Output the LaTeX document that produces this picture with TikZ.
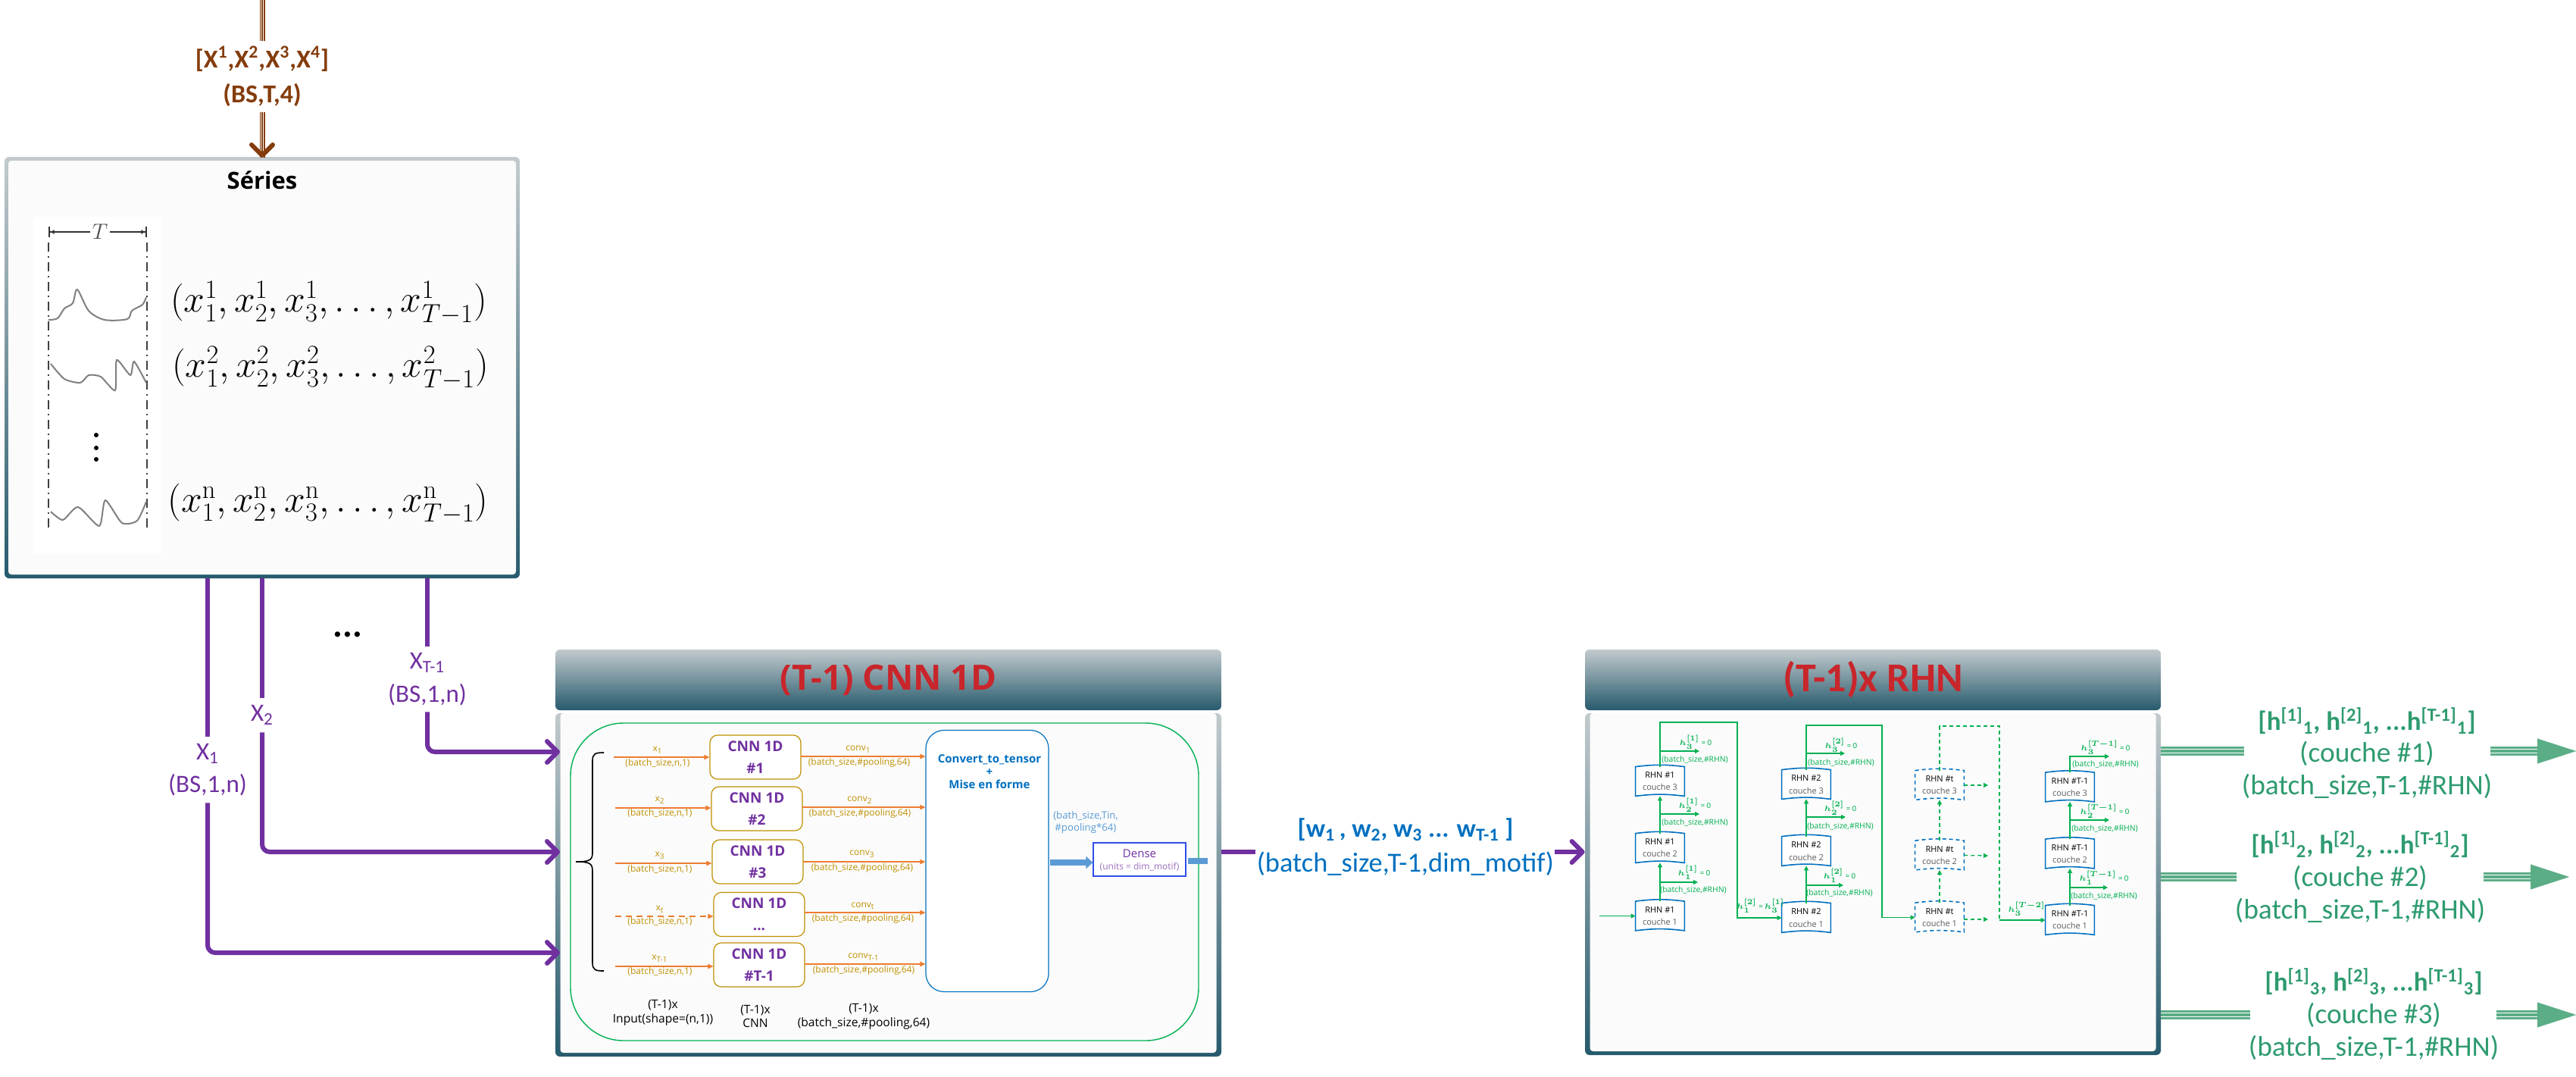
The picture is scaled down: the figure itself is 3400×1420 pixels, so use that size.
\documentclass[tikz,border=0pt]{standalone}
\usepackage{amsmath}
\usepackage[no-math]{fontspec}
\setmainfont{Carlito}
\newfontfamily\osans{Open Sans}
\usepackage{tikz}
\usetikzlibrary{arrows.meta,positioning,calc}
\definecolor{brw}{HTML}{843C0C}
\definecolor{pur}{HTML}{7030A0}
\definecolor{ora}{HTML}{ED7D31}
\definecolor{gld}{HTML}{BF9000}
\definecolor{grn}{HTML}{00B050}
\definecolor{blu}{HTML}{0070C0}
\definecolor{lblu}{HTML}{5B9BD5}
\definecolor{redt}{HTML}{C8262B}
\definecolor{tealt}{HTML}{C2CACD}
\definecolor{tealb}{HTML}{265A6C}
\definecolor{grnt}{HTML}{2E9B6F}
\definecolor{grna}{HTML}{5BAD86}
\definecolor{panin}{HTML}{FBFBFB}
\newcommand{\hb}[2]{{\boldmath$h_{#1}^{[#2]}$}}
\newcommand{\hrow}[1]{[h\textsuperscript{[1]}\textsubscript{#1}, h\textsuperscript{[2]}\textsubscript{#1}, ...h\textsuperscript{[T-1]}\textsubscript{#1}]}
\newcommand{\fs}[1]{\fontsize{#1}{1.2\dimexpr#1pt\relax}\selectfont}
\begin{document}
\begin{tikzpicture}
  [x=0.5pt,y=-0.5pt,
  pout/.style={rectangle,rounded corners=3pt,top color=tealt,bottom color=tealb,inner sep=0},
  pin/.style={rectangle,rounded corners=2pt,fill=panin,inner sep=0},
  hdr/.style={pout,text=redt,font=\fs{23}\osans\bfseries},
  purl/.style={draw=pur,line width=3pt},
  purr/.style={purl,rounded corners=5pt,-{Straight Barb[length=7pt,width=14pt,round]}},
  xlab/.style={text=pur,font=\fs{16.5},align=center,inner sep=0},
  ol/.style={draw=ora,line width=.7pt,-{Triangle[length=3.5pt,width=3.2pt]}},
  lab/.style={text=gld,font=\fs{6}\osans,inner sep=0},
  cnnb/.style={draw=gld,fill=white,rounded corners=5pt,line width=.6pt,minimum width=60pt,minimum height=29pt,inner sep=0,
    align=center,text=pur,font=\fs{9.5}\osans\bfseries},
  blab/.style={font=\fs{7.8}\osans,align=center,inner sep=0},
  gl/.style={draw=grn,line width=.65pt},
  gla/.style={gl,-{Triangle[length=3pt,width=3pt]}},
  gtx/.style={text=grn,font=\fs{5.2}\osans,inner sep=0},
  hlab/.style={text=grn,font=\fs{5.4},inner sep=0},
  rhnshape/.style={append after command={\pgfextra{\draw[draw=blu,fill=white,line width=.8pt,#1]
    (\tikzlastnode.north west) to[bend left=7] (\tikzlastnode.north east) -- (\tikzlastnode.south east)
    to[bend right=7] (\tikzlastnode.south west) -- cycle;}}},
  rhnbase/.style={minimum width=32pt,minimum height=19pt,inner sep=0,align=center,font=\fs{5.5}\osans},
  rhn/.style={rhnbase,rhnshape={solid}},
  rhnd/.style={rhnbase,rhnshape={dash pattern=on 2.5pt off 2pt}},
  tgl/.style={draw=grna,line width=6pt,postaction={draw=white,line width=3.2pt},postaction={draw=grna,line width=1.8pt}},
  tbr/.style={draw=brw,line width=3.5pt,postaction={draw=white,line width=2pt},postaction={draw=brw,line width=.9pt}},
  gtxt/.style={text=grnt,font=\fs{18.7},align=center,inner sep=0},
  gtxb/.style={text=grnt,font=\fs{17.5}\bfseries,inner sep=0},
  gh/.style={draw=grna,line width=.1pt,-{Triangle[length=25.5pt,width=16.5pt,fill=grna]}}]

  \useasboundingbox (0,0) rectangle (3400,1420);

  \coordinate (bs) at (346,0);
  \coordinate (bt) at (346,208);
  \node [text=brw,font=\fs{17}\bfseries,align=center,inner sep=0,minimum height=47pt] (xin) at (346,101)
    {[X\textsuperscript{1},X\textsuperscript{2},X\textsuperscript{3},X\textsuperscript{4}]\\[3pt] (BS,T,4)};
  \draw [tbr] (bs) -- (xin.north);

  \node [pout,minimum width=340pt,minimum height=278pt] (series) at (346,485) {};
  \node [pin,minimum width=335pt,minimum height=273pt] (seriesi) at (series.center) {};
  \draw [tbr] (xin.south) -- (bt);
  \draw [draw=brw,line width=3pt,-{Straight Barb[length=7pt,width=14pt,round]}] ($(bt)+(0,-4)$) -- (bt);
  \node [font=\fs{15.5}\osans\bfseries,inner sep=0] (sertitle) at (346,238) {Séries};

  \fill [white] (44,286) rectangle (213,731);
  \draw [black!75,line width=1pt,dash pattern=on 6pt off 3pt on 1pt off 3pt] (64,320) -- (64,702);
  \draw [black!75,line width=1pt,dash pattern=on 6pt off 3pt on 1pt off 3pt] (194,320) -- (194,702);
  \coordinate (tl) at (64,306);
  \coordinate (tr) at (194,306);
  \node [font=\fs{15},inner sep=1pt,text=black!70] (tlab) at (132,306) {$T$};
  \draw [black!80,line width=.8pt,-{Latex[length=3pt,width=3pt]Bar[width=7pt,sep=0pt]}] (tlab.west) -- (tl);
  \draw [black!80,line width=.8pt,-{Latex[length=3pt,width=3pt]Bar[width=7pt,sep=0pt]}] (tlab.east) -- (tr);
  \draw [black!50,line width=1pt] plot [smooth,tension=.5] coordinates
    {(64,422) (76,420) (85,407) (96,400) (102,382) (117,410) (138,422) (168,421) (174,410) (188,402) (193,392)};
  \draw [black!50,line width=1pt] plot [smooth,tension=.4] coordinates
    {(67,480) (85,500) (106,505) (117,495) (133,497) (152,515) (154,475) (172,495) (177,477) (193,505)};
  \draw [black!50,line width=1pt] plot [smooth,tension=.4] coordinates
    {(67,675) (83,686) (103,669) (131,694) (139,660) (161,690) (181,687) (193,662)};
  \fill (127,574) circle (3);
  \fill (127,591) circle (3);
  \fill (127,606) circle (3);
  \node [font=\fs{24.5},inner sep=0] (f1) at (434,400) {$(x_1^1,x_2^1,x_3^1,\dots,x_{T-1}^1)$};
  \node [font=\fs{24.5},inner sep=0] (f2) at (436,486) {$(x_1^2,x_2^2,x_3^2,\dots,x_{T-1}^2)$};
  \node [font=\fs{24.5},inner sep=0] (fn) at (433,665) {$(x_1^{\mathrm{n}},x_2^{\mathrm{n}},x_3^{\mathrm{n}},\dots,x_{T-1}^{\mathrm{n}})$};

  \node [hdr,minimum width=439.5pt,minimum height=40pt] (cnnh) at (1172.5,897) {(T-1) CNN 1D};
  \node [pout,minimum width=439.5pt,minimum height=226.5pt] (cnnb) at (1172.5,1167.5) {};
  \node [pin,anchor=north,minimum width=433pt,minimum height=224pt] (cnni) at (cnnb.north) {};
  \node [hdr,font=\fs{27}\bfseries,minimum width=380pt,minimum height=40pt] (rhnh) at (2472,897) {(T-1)x RHN};
  \node [pout,minimum width=380pt,minimum height=225.5pt] (rhnb) at (2472,1166.5) {};
  \node [pin,anchor=north,minimum width=373.5pt,minimum height=223pt] (rhni) at (rhnb.north) {};

  \node [xlab,minimum height=43.5pt] (lx1) at (274,1015.5) {X\textsubscript{1}\\[2pt] (BS,1,n)};
  \node [xlab,minimum height=22.5pt] (lx2) at (346,943.5) {X\textsubscript{2}};
  \node [xlab,minimum height=43pt] (lxt) at (564,896) {X\textsubscript{T-1}\\[2pt] (BS,1,n)};
  \node [font=\fs{24}\bfseries,inner sep=0] (ldots) at (459,837) {...};
  \coordinate (in1) at (739,1257);
  \coordinate (in2) at (739,1124);
  \coordinate (int) at (739,992);
  \draw [purl] (series.south -| lx1) -- (lx1.north);
  \draw [purl] (series.south -| lx2) -- (lx2.north);
  \draw [purl] (series.south -| lxt) -- (lxt.north);
  \draw [purr] (lx1.south) |- (in1);
  \draw [purr] (lx2.south) |- (in2);
  \draw [purr] (lxt.south) |- (int);

  \node [draw=grn,line width=.7pt,rounded corners=35pt,minimum width=414.5pt,minimum height=209.5pt,inner sep=0] (net) at (1167.5,1163.5) {};
  \coordinate (brtip) at (760,1137);
  \coordinate (brtop) at (797,993);
  \coordinate (brbot) at (797,1281);
  \draw [black,line width=.8pt] (brtop) .. controls (786,993) and (782,994) .. (782,1004) -- (782,1125)
    .. controls (782,1135) and (778,1137) .. (brtip);
  \draw [black,line width=.8pt] (brbot) .. controls (786,1281) and (782,1280) .. (782,1270) -- (782,1149)
    .. controls (782,1139) and (778,1137) .. (brtip);

  \node [cnnb] (c1) at (997,999) {CNN 1D\\[3pt] \#1};
  \node [cnnb] (c2) at (999,1067) {CNN 1D\\[3pt] \#2};
  \node [cnnb] (c3) at (1000,1137) {CNN 1D\\[3pt] \#3};
  \node [cnnb] (c4) at (1002,1206.5) {CNN 1D\\[3pt] ...};
  \node [cnnb] (c5) at (1002,1273) {CNN 1D\\[3pt] \#T-1};
  \node [draw=blu,fill=white,line width=.6pt,rounded corners=12pt,minimum width=81pt,minimum height=172.5pt,inner sep=0] (conv) at (1303,1136) {};
  \node [text=blu,font=\fs{7.5}\osans\bfseries,align=center,inner sep=0] (convt) at (1306,1018) {Convert\_to\_tensor\\[-.5pt] +\\[-.5pt] Mise en forme};

  \coordinate (i1) at (810,999);
  \coordinate (i2) at (812,1066);
  \coordinate (i3) at (812,1139);
  \coordinate (i4) at (812,1209);
  \coordinate (i5) at (812,1275);
  \draw [ol] (i1) -- (i1 -| c1.west);
  \draw [ol] (i2) -- (i2 -| c2.west);
  \draw [ol] (i3) -- (i3 -| c3.west);
  \draw [ol,dash pattern=on 4pt off 3pt] (i4) -- (i4 -| c4.west);
  \draw [ol] (i5) -- (i5 -| c5.west);
  \node [lab] (ix1) at (868,990) {x\textsubscript{1}};
  \node [lab] (is1) at (868,1007) {(batch\_size,n,1)};
  \node [lab] (ix2) at (871,1056) {x\textsubscript{2}};
  \node [lab] (is2) at (871,1073) {(batch\_size,n,1)};
  \node [lab] (ix3) at (871,1129) {x\textsubscript{3}};
  \node [lab] (is3) at (871,1147) {(batch\_size,n,1)};
  \node [lab] (ix4) at (871,1200) {x\textsubscript{t}};
  \node [lab] (is4) at (871,1216) {(batch\_size,n,1)};
  \node [lab] (ix5) at (871,1265) {x\textsubscript{T-1}};
  \node [lab] (is5) at (871,1282) {(batch\_size,n,1)};

  \coordinate (o1) at (1057,998);
  \coordinate (o2) at (1059,1065);
  \coordinate (o3) at (1060,1137);
  \coordinate (o4) at (1062,1204);
  \coordinate (o5) at (1062,1272);
  \draw [ol] (o1) -- (o1 -| conv.west);
  \draw [ol] (o2) -- (o2 -| conv.west);
  \draw [ol] (o3) -- (o3 -| conv.west);
  \draw [ol] (o4) -- (o4 -| conv.west);
  \draw [ol] (o5) -- (o5 -| conv.west);
  \node [lab] (oc1) at (1133,989) {conv\textsubscript{1}};
  \node [lab] (os1) at (1134,1006) {(batch\_size,\#pooling,64)};
  \node [lab] (oc2) at (1135,1056) {conv\textsubscript{2}};
  \node [lab] (os2) at (1135,1073) {(batch\_size,\#pooling,64)};
  \node [lab] (oc3) at (1138,1127) {conv\textsubscript{3}};
  \node [lab] (os3) at (1138,1145) {(batch\_size,\#pooling,64)};
  \node [lab] (oc4) at (1139,1195) {conv\textsubscript{t}};
  \node [lab] (os4) at (1139,1212) {(batch\_size,\#pooling,64)};
  \node [lab] (oc5) at (1140,1263) {conv\textsubscript{T-1}};
  \node [lab] (os5) at (1140,1280) {(batch\_size,\#pooling,64)};

  \node [blab] (bl1) at (875,1336) {(T-1)x\\ Input(shape=(n,1))};
  \node [blab] (bl2) at (997,1341) {(T-1)x\\ CNN};
  \node [blab] (bl3) at (1140,1341) {(T-1)x\\ (batch\_size,\#pooling,64)};

  \node [text=lblu,font=\fs{6.6}\osans,align=left,inner sep=0] (tin) at (1433,1085) {(bath\_size,Tin,\\ \,\#pooling*64)};
  \node [draw=blue!50!lblu,fill=white,line width=.6pt,minimum width=61pt,minimum height=22pt,inner sep=0] (dense) at (1504,1134) {};
  \node [text=pur,font=\fs{7.5}\osans,inner sep=0] (dl1) at (1504,1126) {Dense};
  \node [text=pur!70,font=\fs{6}\osans,inner sep=0] (dl2) at (1504,1144) {(units = dim\_motif)};
  \coordinate (ba) at (1386,1138);
  \draw [draw=lblu,line width=4pt,-{Triangle[length=4.5pt,width=8pt]}] (ba) -- (ba -| dense.west);
  \coordinate (bb) at (1568,1136);
  \coordinate (bc) at (1594,1136);
  \draw [draw=lblu,line width=4pt] (bb) -- (bc);

  \coordinate (wa) at (1657,1124);
  \coordinate (wb) at (2052,1124);
  \draw [purl] (wa -| cnnb.east) -- (wa);
  \draw [purr] (wb) -- (wb -| rhnb.west);
  \node [text=blu,font=\fs{17}\bfseries,inner sep=0] (wl1) at (1855,1095) {[w\textsubscript{1}\,, w\textsubscript{2}, w\textsubscript{3} ... w\textsubscript{T-1} ]};
  \node [text=blu,font=\fs{18.2},inner sep=0] (wl2) at (1855,1140) {(batch\_size,T-1,dim\_motif)};

  \node [rhn] (r11) at (2191,1208.5) {RHN \#1\\[1.5pt] \textcolor{black!65}{couche 1}};
  \node [rhn] (r12) at (2191,1119) {RHN \#1\\[1.5pt] \textcolor{black!65}{couche 2}};
  \node [rhn] (r13) at (2191,1031) {RHN \#1\\[1.5pt] \textcolor{black!65}{couche 3}};
  \node [rhn] (r21) at (2384,1211) {RHN \#2\\[1.5pt] \textcolor{black!65}{couche 1}};
  \node [rhn] (r22) at (2384,1123) {RHN \#2\\[1.5pt] \textcolor{black!65}{couche 2}};
  \node [rhn] (r23) at (2384,1035) {RHN \#2\\[1.5pt] \textcolor{black!65}{couche 3}};
  \node [rhnd] (rt1) at (2560,1210.5) {RHN \#t\\[1.5pt] \textcolor{black!65}{couche 1}};
  \node [rhnd] (rt2) at (2560,1128.5) {RHN \#t\\[1.5pt] \textcolor{black!65}{couche 2}};
  \node [rhnd] (rt3) at (2560,1036) {RHN \#t\\[1.5pt] \textcolor{black!65}{couche 3}};
  \node [rhn] (rl1) at (2732,1214) {RHN \#T-1\\[1.5pt] \textcolor{black!65}{couche 1}};
  \node [rhn] (rl2) at (2732,1126.5) {RHN \#T-1\\[1.5pt] \textcolor{black!65}{couche 2}};
  \node [rhn] (rl3) at (2732,1038.5) {RHN \#T-1\\[1.5pt] \textcolor{black!65}{couche 3}};

  \coordinate (e0) at (2111,1208.5);
  \coordinate (t1) at (2293,953);
  \coordinate (t2) at (2484,957);
  \coordinate (t3) at (2639,958);
  \coordinate (t3b) at (2639,1214);
  \coordinate (t4) at (2784,998);
  \draw [gla] (e0) -- (r11.west);
  \draw [gla] (r11.north) -- (r12.south);
  \draw [gla] (r12.north) -- (r13.south);
  \draw [gla] (r13.north) |- (t1) |- (r21.west);
  \draw [gla] (r21.north) -- (r22.south);
  \draw [gla] (r22.north) -- (r23.south);
  \draw [gla] (r23.north) |- (t2) |- (rt1.west);
  \draw [gla,dash pattern=on 2.5pt off 2pt] (rt1.north) -- (rt2.south);
  \draw [gla,dash pattern=on 2.5pt off 2pt] (rt2.north) -- (rt3.south);
  \draw [gl,dash pattern=on 2.5pt off 2pt] (rt3.north) |- (t3) -- (t3b);
  \draw [gla] (t3b) -- (rl1.west);
  \draw [gla] (rl1.north) -- (rl2.south);
  \draw [gla] (rl2.north) -- (rl3.south);
  \draw [gla] (rl3.north) |- (t4);

  \coordinate (s1) at (2191,1164);
  \coordinate (s1e) at (2241,1164);
  \coordinate (s2) at (2191,1074);
  \coordinate (s2e) at (2243,1074);
  \coordinate (s3) at (2191,991);
  \coordinate (s3e) at (2243,991);
  \coordinate (s4) at (2384,1168);
  \coordinate (s4e) at (2433,1168);
  \coordinate (s5) at (2384,1078);
  \coordinate (s5e) at (2436,1078);
  \coordinate (s6) at (2384,994);
  \coordinate (s6e) at (2435,994);
  \coordinate (s7) at (2732,1171);
  \coordinate (s7e) at (2782,1171);
  \coordinate (s8) at (2732,1082);
  \coordinate (s8e) at (2784,1082);
  \draw [gla] (s1) -- (s1e);
  \draw [gla] (s2) -- (s2e);
  \draw [gla] (s3) -- (s3e);
  \draw [gla] (s4) -- (s4e);
  \draw [gla] (s5) -- (s5e);
  \draw [gla] (s6) -- (s6e);
  \draw [gla] (s7) -- (s7e);
  \draw [gla] (s8) -- (s8e);
  \coordinate (d1) at (2624,1036);
  \coordinate (d2) at (2624,1129);
  \coordinate (d3) at (2624,1213);
  \draw [gla,dash pattern=on 2.5pt off 2pt] (rt3.east) -- (d1);
  \draw [gla,dash pattern=on 2.5pt off 2pt] (rt2.east) -- (d2);
  \draw [gla,dash pattern=on 2.5pt off 2pt] (d3 -| rt1.east) -- (d3);

  \node [hlab] (h11) at (2236,1151) {\hb{1}{1} = 0};
  \node [hlab] (h12) at (2237,1062) {\hb{2}{1} = 0};
  \node [hlab] (h13) at (2238,979) {\hb{3}{1} = 0};
  \node [hlab] (h21) at (2428,1155) {\hb{1}{2} = 0};
  \node [hlab] (h22) at (2429,1066) {\hb{2}{2} = 0};
  \node [hlab] (h23) at (2430,983) {\hb{3}{2} = 0};
  \node [hlab] (h31) at (2777,1158) {\hb{1}{T-1} = 0};
  \node [hlab] (h32) at (2778,1070) {\hb{2}{T-1} = 0};
  \node [hlab] (h33) at (2779,986) {\hb{3}{T-1} = 0};
  \node [hlab] (hx1) at (2324,1195) {\hb{1}{2} = \hb{3}{1}};
  \node [hlab] (hx2) at (2675,1199) {\hb{3}{T-2}};
  \node [gtx] (g11) at (2235,1174) {(batch\_size,\#RHN)};
  \node [gtx] (g12) at (2237,1085) {(batch\_size,\#RHN)};
  \node [gtx] (g13) at (2237,1002) {(batch\_size,\#RHN)};
  \node [gtx] (g21) at (2428,1178) {(batch\_size,\#RHN)};
  \node [gtx] (g22) at (2429,1090) {(batch\_size,\#RHN)};
  \node [gtx] (g23) at (2430,1006) {(batch\_size,\#RHN)};
  \node [gtx] (g31) at (2777,1182) {(batch\_size,\#RHN)};
  \node [gtx] (g32) at (2778,1093) {(batch\_size,\#RHN)};
  \node [gtx] (g33) at (2779,1008) {(batch\_size,\#RHN)};

  \coordinate (k1a) at (2962,991);
  \coordinate (k1b) at (3287,991);
  \coordinate (k1c) at (3349,991);
  \coordinate (k1t) at (3400,991);
  \coordinate (k2a) at (2952,1157);
  \coordinate (k2b) at (3278,1157);
  \coordinate (k2c) at (3341,1157);
  \coordinate (k2t) at (3391,1157);
  \coordinate (k3a) at (2970,1339);
  \coordinate (k3b) at (3295,1339);
  \coordinate (k3c) at (3349,1339);
  \coordinate (k3t) at (3400,1339);
  \draw [tgl] (k1a -| rhnb.east) -- (k1a);
  \draw [tgl] (k1b) -- (k1c);
  \draw [gh] (k1c) -- (k1t);
  \draw [tgl] (k2a -| rhnb.east) -- (k2a);
  \draw [tgl] (k2b) -- (k2c);
  \draw [gh] (k2c) -- (k2t);
  \draw [tgl] (k3a -| rhnb.east) -- (k3a);
  \draw [tgl] (k3b) -- (k3c);
  \draw [gh] (k3c) -- (k3t);
  \node [gtxb] (w11) at (3124,951) {\hrow{1}};
  \node [gtxt] (w12) at (3124,994) {(couche \#1)};
  \node [gtxt] (w13) at (3124,1037) {(batch\_size,T-1,\#RHN)};
  \node [gtxb] (w21) at (3115,1114) {\hrow{2}};
  \node [gtxt] (w22) at (3115,1158) {(couche \#2)};
  \node [gtxt] (w23) at (3115,1201) {(batch\_size,T-1,\#RHN)};
  \node [gtxb] (w31) at (3133,1295) {\hrow{3}};
  \node [gtxt] (w32) at (3133,1339) {(couche \#3)};
  \node [gtxt] (w33) at (3133,1382) {(batch\_size,T-1,\#RHN)};
\end{tikzpicture}
\end{document}
